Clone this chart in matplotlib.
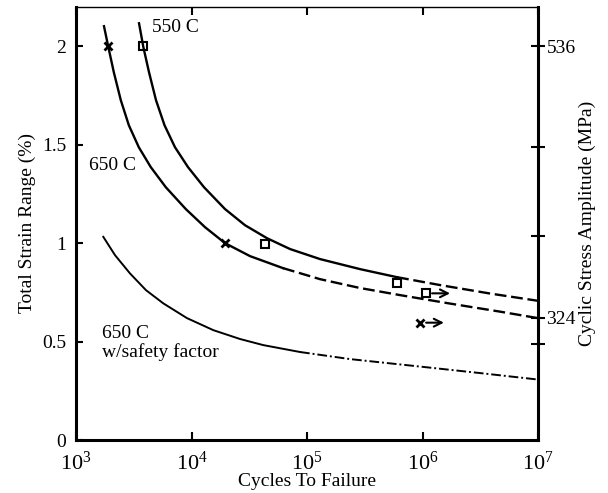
import matplotlib
matplotlib.use('Agg')
import matplotlib.pyplot as plt

# Fonts: Times-like serif everywhere
plt.rcParams['font.family'] = ['Liberation Serif', 'DejaVu Serif']
plt.rcParams['mathtext.fontset'] = 'custom'
plt.rcParams['mathtext.rm'] = 'Liberation Serif'
plt.rcParams['mathtext.it'] = 'Liberation Serif:italic'

# 650 C fatigue curve (solid part, then dashed extrapolation)
n650_solid = [1747, 1904, 2125, 2443, 2866, 3498, 4441, 5991, 8925, 13090,
              19500, 32100, 61960]
e650_solid = [2.102, 1.997, 1.868, 1.726, 1.599, 1.487, 1.386, 1.284, 1.173,
              1.081, 1.0, 0.934, 0.873]
n650_dash = [61960, 129600, 287700, 638700, 1730000, 4688000, 1.0e7]
e650_dash = [0.873, 0.817, 0.772, 0.736, 0.693, 0.652, 0.619]

# 550 C fatigue curve
n550_solid = [3512, 3825, 4286, 4927, 5837, 7195, 9326, 12830, 19500, 29050,
              45050, 71270, 129600, 287700, 601600]
e550_solid = [2.117, 1.997, 1.868, 1.726, 1.599, 1.487, 1.386, 1.284, 1.173,
              1.091, 1.025, 0.970, 0.919, 0.868, 0.827]
n550_dash = [601600, 1418000, 3841000, 1.0e7]
e550_dash = [0.827, 0.787, 0.744, 0.707]

# 650 C with safety factor
nsf_solid = [1723, 2176, 2935, 4037, 5700, 9142, 15440, 26300, 41830, 86980]
esf_solid = [1.032, 0.939, 0.846, 0.761, 0.694, 0.619, 0.558, 0.513, 0.482,
             0.447]
nsf_dash = [86980, 235700, 951500, 3146000, 1.0e7]
esf_dash = [0.447, 0.411, 0.373, 0.340, 0.307]

# Test data
x650_n = [1904, 19500]
x650_e = [2.0, 1.0]
sq550_n = [3825, 43300, 598000, 1070000]
sq550_e = [2.0, 0.995, 0.795, 0.745]

# Run-outs (no failure): start, arrow end, strain
runout_sq = (1070000, 1730000, 0.745)
runout_x = (950000, 1530000, 0.596)

# Right axis (cyclic stress amplitude) ticks at strain positions
right_tick_pos = [2.0, 1.49, 1.035, 0.62, 0.49]
right_tick_lab = ['536', '', '', '324', '']

fig = plt.figure(figsize=(6.08, 4.93), dpi=100)
ax = fig.add_axes([0.125, 0.1075, 0.76, 0.8785])

lw = 1.7
ax.plot(n650_solid, e650_solid, color='black', lw=lw)
ax.plot(n650_dash, e650_dash, color='black', lw=lw, ls=(0, (5, 2)))
ax.plot(n550_solid, e550_solid, color='black', lw=lw)
ax.plot(n550_dash, e550_dash, color='black', lw=lw, ls=(0, (5, 2)))
ax.plot(nsf_solid, esf_solid, color='black', lw=1.4)
ax.plot(nsf_dash, esf_dash, color='black', lw=1.4, ls=(0, (5, 1.5, 1, 1.5)))

ax.plot(x650_n, x650_e, 'x', color='black', ms=6, mew=2)
ax.plot(sq550_n, sq550_e, 's', color='black', mfc='none', ms=6, mew=1.5)
ax.plot([runout_x[0]], [runout_x[2]], 'x', color='black', ms=6, mew=2)

for start, end, e in [runout_sq, runout_x]:
    ax.annotate('', xy=(end, e), xytext=(start * 1.13, e),
                arrowprops=dict(arrowstyle='->', color='black', lw=1.5,
                                mutation_scale=14, shrinkA=0, shrinkB=0))

ax.text(4550, 2.096, '550 C', fontsize=14, va='center', ha='left')
ax.text(1297, 1.396, '650 C', fontsize=14, va='center', ha='left')
ax.text(1679, 0.543, '650 C', fontsize=14, va='center', ha='left')
ax.text(1679, 0.447, 'w/safety factor', fontsize=14, va='center', ha='left')

ax.set_xscale('log')
ax.set_xlim(1e3, 1e7)
ax.set_ylim(0, 2.2)
ax.set_xticks([1e3, 1e4, 1e5, 1e6, 1e7])
ax.minorticks_off()
ax.set_yticks([0, 0.5, 1, 1.5, 2])
ax.set_yticklabels(['0', '0.5', '1', '1.5', '2'])
ax.tick_params(axis='x', which='both', direction='in', top=True, length=6,
               width=1.5, labelsize=16, pad=8)
ax.tick_params(axis='y', direction='in', length=5, width=1.5, labelsize=14, pad=7)
ax.set_xlabel('Cycles To Failure', fontsize=14, labelpad=-1)
ax.set_ylabel('Total Strain Range (%)', fontsize=14, labelpad=4)

for side in ['left', 'bottom']:
    ax.spines[side].set_linewidth(2.2)
ax.spines['top'].set_linewidth(1.0)
ax.spines['right'].set_visible(False)

ax2 = ax.twinx()
ax2.set_ylim(0, 2.2)
ax2.set_yticks(right_tick_pos)
ax2.set_yticklabels(right_tick_lab)
ax2.tick_params(axis='y', direction='inout', length=10, width=1.5,
                labelsize=14, pad=1)
ax2.spines['right'].set_linewidth(2.2)
for side in ['left', 'top', 'bottom']:
    ax2.spines[side].set_visible(False)
ax2.set_ylabel('Cyclic Stress Amplitude (MPa)', fontsize=14, labelpad=2)

fig.savefig('out.png', dpi=100)
